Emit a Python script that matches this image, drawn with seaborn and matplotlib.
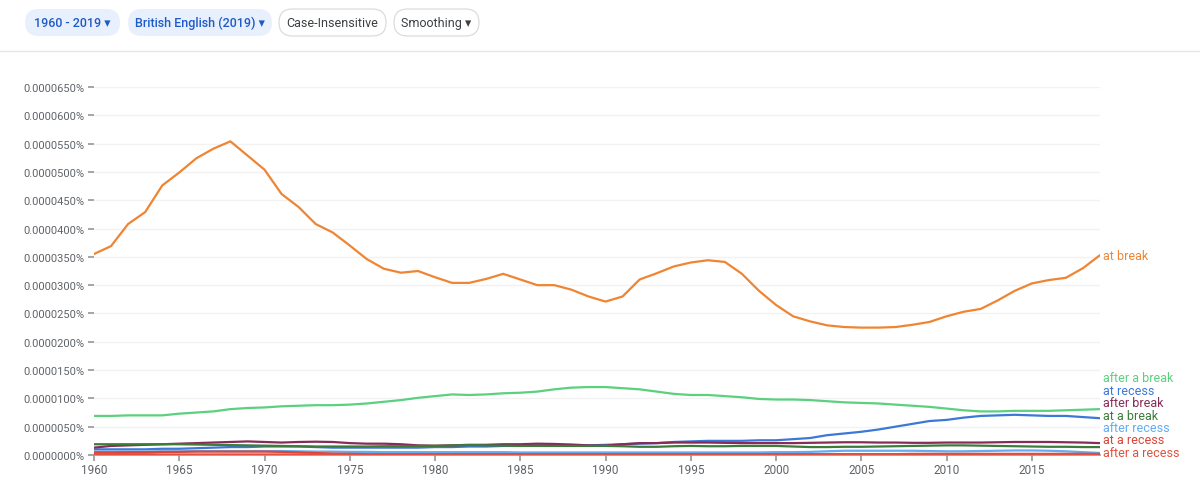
import matplotlib
matplotlib.use("Agg")
import matplotlib.pyplot as plt
import seaborn as sns
import pandas as pd
from matplotlib.patches import FancyBboxPatch
from matplotlib.lines import Line2D

# values in units of 0.000001 %  (i.e. 1e-6 percent)
years = list(range(1960, 2020))

at_break = [
    35.5, 36.9, 40.8, 42.9, 47.6, 49.9, 52.4, 54.1, 55.4, 52.9,
    50.4, 46.1, 43.8, 40.8, 39.3, 37.0, 34.6, 32.9, 32.2, 32.5,
    31.4, 30.4, 30.4, 31.1, 32.0, 31.0, 30.0, 30.0, 29.2, 28.0,
    27.1, 28.0, 31.0, 32.1, 33.3, 34.0, 34.4, 34.1, 32.0, 29.0,
    26.5, 24.5, 23.6, 22.9, 22.6, 22.5, 22.5, 22.6, 23.0, 23.5,
    24.5, 25.3, 25.8, 27.3, 29.0, 30.3, 30.9, 31.3, 33.0, 35.3,
]
after_a_break = [
    6.9, 6.9, 7.0, 7.0, 7.0, 7.3, 7.5, 7.7, 8.1, 8.3,
    8.4, 8.6, 8.7, 8.8, 8.8, 8.9, 9.1, 9.4, 9.7, 10.1,
    10.4, 10.7, 10.6, 10.7, 10.9, 11.0, 11.2, 11.6, 11.9, 12.0,
    12.0, 11.8, 11.6, 11.2, 10.8, 10.6, 10.6, 10.4, 10.2, 9.9,
    9.8, 9.8, 9.7, 9.5, 9.3, 9.2, 9.1, 8.9, 8.7, 8.5,
    8.2, 7.9, 7.7, 7.7, 7.8, 7.8, 7.8, 7.9, 8.0, 8.1,
]
at_recess = [
    1.0, 1.0, 1.0, 1.0, 1.1, 1.1, 1.2, 1.3, 1.4, 1.4,
    1.5, 1.5, 1.5, 1.4, 1.3, 1.3, 1.3, 1.3, 1.3, 1.3,
    1.4, 1.4, 1.5, 1.5, 1.6, 1.6, 1.7, 1.7, 1.7, 1.7,
    1.8, 1.9, 2.0, 2.1, 2.3, 2.4, 2.5, 2.5, 2.5, 2.6,
    2.6, 2.8, 3.0, 3.5, 3.8, 4.1, 4.5, 5.0, 5.5, 6.0,
    6.2, 6.6, 6.9, 7.0, 7.1, 7.0, 6.9, 6.9, 6.7, 6.5,
]
after_break = [
    1.3, 1.6, 1.7, 1.8, 1.9, 2.0, 2.1, 2.2, 2.3, 2.4,
    2.3, 2.2, 2.3, 2.35, 2.3, 2.1, 2.0, 2.0, 1.9, 1.7,
    1.65, 1.7, 1.8, 1.8, 1.9, 1.9, 2.0, 1.95, 1.85, 1.7,
    1.65, 1.9, 2.1, 2.1, 2.2, 2.2, 2.2, 2.15, 2.1, 2.1,
    2.1, 2.1, 2.15, 2.2, 2.25, 2.25, 2.2, 2.2, 2.15, 2.15,
    2.2, 2.2, 2.2, 2.25, 2.3, 2.3, 2.3, 2.25, 2.2, 2.1,
]
at_a_break = [
    1.9, 1.9, 1.9, 1.9, 1.9, 1.9, 1.85, 1.8, 1.75, 1.7,
    1.65, 1.6, 1.55, 1.5, 1.5, 1.5, 1.5, 1.55, 1.55, 1.6,
    1.6, 1.7, 1.75, 1.7, 1.65, 1.6, 1.6, 1.6, 1.6, 1.6,
    1.6, 1.55, 1.45, 1.45, 1.55, 1.6, 1.55, 1.55, 1.6, 1.6,
    1.6, 1.5, 1.4, 1.4, 1.45, 1.45, 1.5, 1.55, 1.6, 1.65,
    1.7, 1.7, 1.65, 1.6, 1.55, 1.5, 1.45, 1.45, 1.4, 1.4,
]
after_recess = [
    0.6, 0.6, 0.6, 0.6, 0.65, 0.65, 0.7, 0.7, 0.7, 0.7,
    0.7, 0.7, 0.65, 0.6, 0.6, 0.55, 0.55, 0.5, 0.5, 0.5,
    0.5, 0.5, 0.5, 0.5, 0.5, 0.45, 0.45, 0.45, 0.45, 0.45,
    0.45, 0.45, 0.45, 0.45, 0.45, 0.45, 0.45, 0.45, 0.45, 0.45,
    0.5, 0.5, 0.55, 0.65, 0.75, 0.75, 0.75, 0.75, 0.75, 0.7,
    0.65, 0.65, 0.7, 0.75, 0.8, 0.8, 0.75, 0.65, 0.5, 0.35,
]
at_a_recess = [
    0.45, 0.45, 0.5, 0.5, 0.55, 0.55, 0.6, 0.6, 0.6, 0.6,
    0.6, 0.55, 0.45, 0.35, 0.25, 0.2, 0.15, 0.15, 0.15, 0.15,
    0.15, 0.15, 0.15, 0.15, 0.15, 0.15, 0.15, 0.15, 0.15, 0.15,
    0.15, 0.15, 0.15, 0.15, 0.15, 0.15, 0.15, 0.15, 0.15, 0.15,
    0.15, 0.15, 0.15, 0.15, 0.15, 0.15, 0.15, 0.15, 0.2, 0.2,
    0.2, 0.2, 0.2, 0.2, 0.2, 0.2, 0.2, 0.2, 0.2, 0.2,
]
after_a_recess = [
    0.2, 0.2, 0.15, 0.15, 0.1, 0.1, 0.1, 0.1, 0.1, 0.1,
    0.1, 0.1, 0.1, 0.1, 0.1, 0.1, 0.1, 0.1, 0.1, 0.1,
    0.1, 0.1, 0.1, 0.1, 0.1, 0.1, 0.1, 0.1, 0.1, 0.1,
    0.1, 0.1, 0.1, 0.1, 0.1, 0.1, 0.1, 0.1, 0.1, 0.1,
    0.1, 0.1, 0.1, 0.1, 0.1, 0.1, 0.1, 0.1, 0.1, 0.1,
    0.1, 0.1, 0.1, 0.1, 0.1, 0.1, 0.1, 0.1, 0.1, 0.08,
]

phrases = ["at break", "after a break", "at recess", "after break",
           "at a break", "after recess", "at a recess", "after a recess"]
series = [at_break, after_a_break, at_recess, after_break,
          at_a_break, after_recess, at_a_recess, after_a_recess]
colors = ["#ef8533", "#5cd07e", "#3c78d8", "#862c57",
          "#3d7b3b", "#63abf4", "#db4437", "#e0513f"]

y_ticks = list(range(0, 66, 5))
x_ticks = list(range(1960, 2016, 5))

df = pd.concat([pd.DataFrame({"year": years, "value": vals, "phrase": p})
                for p, vals in zip(phrases, series)])

sns.set_theme(style="white")
plt.rcParams["font.family"] = ["Roboto", "DejaVu Sans"]

fig = plt.figure(figsize=(12, 4.85), dpi=100)
ax = fig.add_axes([94 / 1200, 29 / 485, 1006 / 1200, 368 / 485])

sns.lineplot(data=df, x="year", y="value", hue="phrase", hue_order=phrases,
             palette=dict(zip(phrases, colors)), linewidth=1.6, legend=False,
             ax=ax)
for line in ax.lines:
    line.set_solid_joinstyle("round")
    line.set_solid_capstyle("round")
    line.set_zorder(4)

ax.set_xlim(1960, 2019)
ax.set_ylim(0, 65)
ax.set_xticks(x_ticks)
ax.set_yticks(y_ticks)
ax.set_yticklabels([f"{v / 1e6:.7f}%" for v in y_ticks])
ax.set_xlabel("")
ax.set_ylabel("")
ax.grid(axis="y", color="#f2f2f2", linewidth=1)
for side in ["top", "right", "left"]:
    ax.spines[side].set_visible(False)
ax.spines["bottom"].set_color("#9a9a9a")
ax.spines["bottom"].set_zorder(1)
ax.tick_params(axis="y", length=4, color="#9a9a9a", labelsize=8,
               labelcolor="#5f6368", pad=3, left=True)
ax.tick_params(axis="x", length=4, color="#9a9a9a", labelsize=8.5,
               labelcolor="#5f6368", pad=2, bottom=True)

# right-hand labels, stacked upwards so they do not overlap
finals = [(s[-1], p, c) for s, p, c in zip(series, phrases, colors)]
finals.sort()
prev = None
for val, p, c in finals:
    pos = max(val, 0.45) if prev is None else max(val, prev + 2.2)
    prev = pos
    ax.text(2019.2, pos, p, color=c, fontsize=9, va="center", ha="left",
            clip_on=False)

# header pills
def pill(x0, x1, label, fill, edge, tc, bold):
    y0, y1 = 10, 37
    box = FancyBboxPatch((x0 / 100, (485 - y1) / 100), (x1 - x0) / 100,
                         (y1 - y0) / 100,
                         boxstyle="round,pad=0,rounding_size=0.135",
                         transform=fig.dpi_scale_trans, facecolor=fill,
                         edgecolor=edge, linewidth=0.8)
    fig.add_artist(box)
    fig.text((x0 + x1) / 2 / 1200, 1 - (y0 + y1) / 2 / 485, label,
             ha="center", va="center", fontsize=9, color=tc,
             fontweight="medium" if bold else "normal",
             family=["Roboto", "DejaVu Sans"])

pill(25, 120, "1960 - 2019 \u25BE", "#e8f0fe", "none", "#1f5bc6", True)
pill(128, 272, "British English (2019) \u25BE", "#e8f0fe", "none", "#1f5bc6", True)
pill(279, 386, "Case-Insensitive", "white", "#d6d8db", "#3c4043", False)
pill(394, 479, "Smoothing \u25BE", "white", "#d6d8db", "#3c4043", False)

fig.add_artist(Line2D([0, 1], [1 - 52 / 485, 1 - 52 / 485],
                      transform=fig.transFigure, color="#e6e6e6", linewidth=1))

fig.savefig("out.png", dpi=100)
